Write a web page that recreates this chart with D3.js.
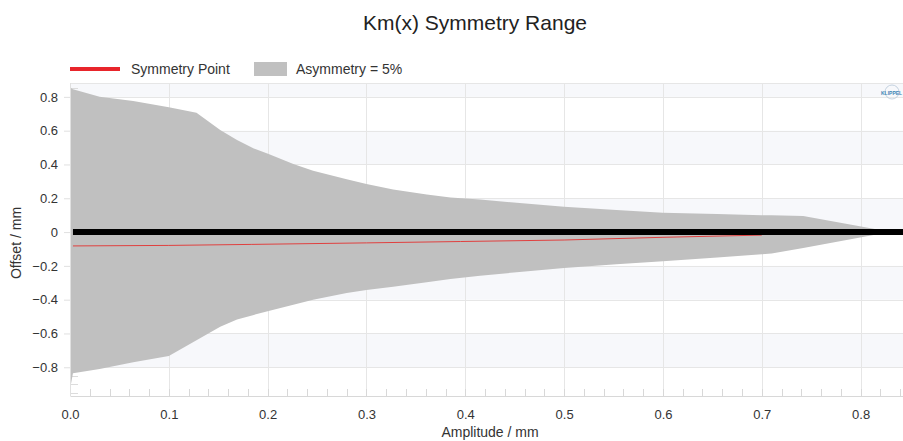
<!DOCTYPE html>
<html><head><meta charset="utf-8">
<script src="https://cdn.jsdelivr.net/npm/d3@7/dist/d3.min.js"></script>
<style>
html,body{margin:0;padding:0;background:#fff;overflow:hidden}
svg{display:block;font-family:"Liberation Sans",Arial,Helvetica,sans-serif}
</style></head>
<body><svg id="c" width="903" height="441"></svg>
<script>
// ---- data ----
const title = "Km(x) Symmetry Range";
const xLabel = "Amplitude / mm";
const yLabel = "Offset / mm";
const legendLabels = ["Symmetry Point", "Asymmetry = 5%"];
const xTicks = [0, 0.1, 0.2, 0.3, 0.4, 0.5, 0.6, 0.7, 0.8];
const yTicks = [-0.8, -0.6, -0.4, -0.2, 0, 0.2, 0.4, 0.6, 0.8];

const rangeAmp   = [0, 0.003, 0.03, 0.064, 0.1, 0.128, 0.152, 0.169, 0.186, 0.201, 0.226, 0.246, 0.28, 0.3, 0.327, 0.361, 0.385, 0.415, 0.452, 0.5, 0.553, 0.6, 0.655, 0.7, 0.71, 0.742, 0.82, 0.83];
const rangeUpper = [0.855, 0.845, 0.80, 0.775, 0.738, 0.706, 0.604, 0.544, 0.495, 0.462, 0.402, 0.363, 0.312, 0.284, 0.252, 0.223, 0.205, 0.193, 0.173, 0.15, 0.13, 0.114, 0.107, 0.10, 0.099, 0.095, 0.012, 0.0];
const rangeLower = [-0.93, -0.835, -0.81, -0.77, -0.734, -0.64, -0.56, -0.517, -0.49, -0.467, -0.43, -0.40, -0.36, -0.343, -0.323, -0.297, -0.278, -0.258, -0.238, -0.212, -0.19, -0.172, -0.15, -0.132, -0.127, -0.095, -0.01, 0.0];

const symAmp = [0.003, 0.1, 0.184, 0.3, 0.395, 0.5, 0.6, 0.7];
const symVal = [-0.082, -0.079, -0.073, -0.064, -0.056, -0.047, -0.031, -0.018];

const zeroAmp = [0.003, 0.85];
const zeroVal = [0, 0];

// ---- layout ----
const svg = d3.select("#c");
const L = 70, R = 910, T = 83, B = 396;
const x = d3.scaleLinear().domain([0, 0.85]).range([L, R]);
const y = d3.scaleLinear().domain([-0.97, 0.882]).range([B, T]);

svg.append("rect").attr("width",903).attr("height",441).attr("fill","#fff");

// alternating bands
const bandEdges = [y.domain()[0]].concat(yTicks, [y.domain()[1]]);
for (let i = 0; i < bandEdges.length - 1; i++) {
  if (i % 2 === 1) {
    svg.append("rect").attr("x", L).attr("width", R - L)
      .attr("y", y(bandEdges[i+1])).attr("height", y(bandEdges[i]) - y(bandEdges[i+1]))
      .attr("fill", "#f7f8fb");
  }
}

// grid
const grid = svg.append("g").attr("stroke","#e6e6e6").attr("stroke-width",1);
yTicks.concat([y.domain()[1]]).forEach(v => grid.append("line")
  .attr("x1", L).attr("x2", R).attr("y1", Math.round(y(v))+0.5).attr("y2", Math.round(y(v))+0.5));
xTicks.forEach(v => grid.append("line")
  .attr("y1", T).attr("y2", B).attr("x1", Math.round(x(v))+0.5).attr("x2", Math.round(x(v))+0.5));

// y minor ticks (inside)
const yMinor = d3.range(-0.95, 0.88, 0.05);
svg.append("g").selectAll("line").data(yMinor).join("line")
  .attr("x1", L).attr("x2", L + 8)
  .attr("y1", d => Math.round(y(d))+0.5).attr("y2", d => Math.round(y(d))+0.5)
  .attr("stroke","#dcdcdc");

// x minor ticks (inside, up from axis)
const xMinor = d3.range(0, 0.851, 0.02);
svg.append("g").selectAll("line").data(xMinor).join("line")
  .attr("y1", B).attr("y2", B - 7)
  .attr("x1", d => Math.round(x(d))+0.5).attr("x2", d => Math.round(x(d))+0.5)
  .attr("stroke","#d8d8d8");

// area
const areaData = rangeAmp.map((a,i) => ({a, hi: rangeUpper[i], lo: rangeLower[i]}));
svg.append("path").datum(areaData)
  .attr("d", d3.area().x(d => x(d.a)).y0(d => y(d.lo)).y1(d => y(d.hi)))
  .attr("fill", "#c0c0c0");

// symmetry point
const symData = symAmp.map((a,i) => ({a, v: symVal[i]}));
svg.append("path").datum(symData)
  .attr("d", d3.line().x(d => x(d.a)).y(d => y(d.v)))
  .attr("fill","none").attr("stroke","#e0403f").attr("stroke-width",1);

// zero line
const zeroData = zeroAmp.map((a,i) => ({a, v: zeroVal[i]}));
svg.append("path").datum(zeroData)
  .attr("d", d3.line().x(d => x(d.a)).y(d => y(d.v)))
  .attr("fill","none").attr("stroke","#000").attr("stroke-width",6);

// axes
const xAxis = svg.append("g").attr("transform", `translate(0,${B})`)
  .call(d3.axisBottom(x).tickValues(xTicks).tickFormat(d3.format(".1f")).tickSize(0).tickPadding(14));
xAxis.select(".domain").attr("stroke","#d8d8d8");
xAxis.selectAll("text").attr("font-size",13).attr("fill","#333").attr("font-family","Liberation Sans, Arial, sans-serif");

const yAxis = svg.append("g").attr("transform", `translate(${L},0)`)
  .call(d3.axisLeft(y).tickValues(yTicks).tickFormat(d => d === 0 ? "0" : d3.format(".1f")(d)).tickSize(6).tickPadding(6));
yAxis.select(".domain").attr("stroke","#e0e0e0").attr("d", `M0.5,${T}V${B}`);
yAxis.selectAll(".tick line").attr("stroke","#e0e0e0");
yAxis.selectAll("text").attr("font-size",13).attr("fill","#333").attr("font-family","Liberation Sans, Arial, sans-serif");

// titles
svg.append("text").attr("x", 475).attr("y", 30).attr("text-anchor","middle")
  .attr("font-size",21).attr("fill","#222").text(title);
svg.append("text").attr("x", (L+R)/2).attr("y", 437).attr("text-anchor","middle")
  .attr("font-size",14).attr("fill","#333").text(xLabel);
svg.append("text").attr("transform","translate(21,243) rotate(-90)").attr("text-anchor","middle")
  .attr("font-size",14).attr("fill","#333").text(yLabel);

// legend
const lg = svg.append("g");
lg.append("line").attr("x1",70).attr("x2",120).attr("y1",69).attr("y2",69)
  .attr("stroke","#e8252b").attr("stroke-width",4);
lg.append("text").attr("x",131).attr("y",74).attr("font-size",14).attr("fill","#333").text(legendLabels[0]);
lg.append("rect").attr("x",254).attr("y",62).attr("width",33).attr("height",14).attr("fill","#c0c0c0");
lg.append("text").attr("x",296).attr("y",74).attr("font-size",14).attr("fill","#333").text(legendLabels[1]);

// logo
svg.append("circle").attr("cx",892).attr("cy",92).attr("r",7).attr("fill","none")
  .attr("stroke","#b8c8d8").attr("stroke-width",0.8);
svg.append("text").attr("x",881).attr("y",94.5).attr("font-size",5).attr("font-weight","bold")
  .attr("fill","#3f86b5").text("KLIPPEL");
</script></body></html>
